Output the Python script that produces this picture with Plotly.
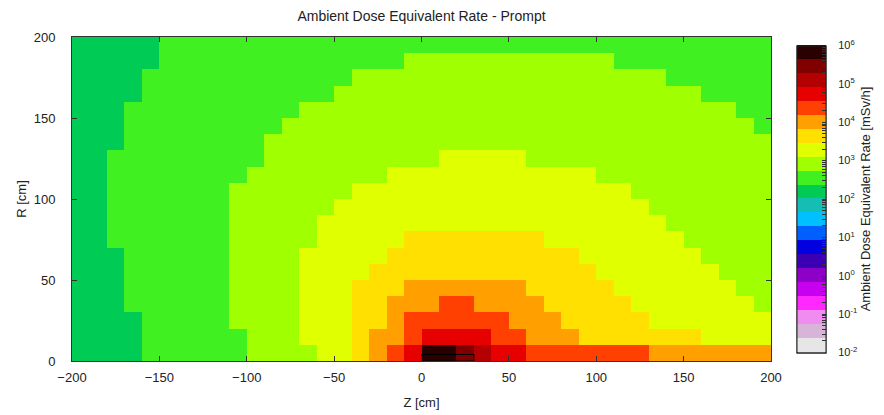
import numpy as np
import plotly.graph_objects as go

# ---------------- data ----------------
# bin edges of the USRBIN-like R-Z mesh [cm]
z_edges = list(range(-200, 201, 10))
r_edges = list(range(0, 201, 10))

# ambient dose equivalent rate [mSv/h], one row per R bin (R = 0-10 first), 40 Z bins each
dose = [
    [150,150,150,150,350,350,350,350,350,350,800,800,800,800,1900,1900,4400,10000,23000,54000,
     660000,660000,280000,120000,54000,54000,23000,23000,23000,23000,23000,23000,23000,10000,10000,10000,10000,10000,10000,10000],
    [150,150,150,150,350,350,350,350,350,350,800,800,800,1900,1900,1900,4400,10000,10000,23000,
     54000,54000,54000,54000,23000,23000,10000,10000,10000,4400,4400,4400,4400,4400,4400,4400,1900,1900,1900,1900],
    [150,150,150,150,350,350,350,350,350,800,800,800,800,1900,1900,1900,4400,4400,10000,23000,
     23000,23000,23000,23000,23000,10000,10000,10000,4400,4400,4400,4400,4400,1900,1900,1900,1900,1900,1900,1900],
    [150,150,150,350,350,350,350,350,350,800,800,800,800,1900,1900,1900,4400,4400,10000,10000,
     10000,23000,23000,10000,10000,10000,10000,4400,4400,4400,4400,4400,1900,1900,1900,1900,1900,1900,1900,800],
    [150,150,150,350,350,350,350,350,350,800,800,800,800,1900,1900,1900,4400,4400,4400,10000,
     10000,10000,10000,10000,10000,10000,4400,4400,4400,4400,4400,1900,1900,1900,1900,1900,1900,1900,800,800],
    [150,150,150,350,350,350,350,350,350,800,800,800,800,1900,1900,1900,1900,4400,4400,4400,
     4400,4400,4400,4400,4400,4400,4400,4400,4400,4400,1900,1900,1900,1900,1900,1900,1900,800,800,800],
    [150,150,150,350,350,350,350,350,350,800,800,800,800,1900,1900,1900,1900,1900,4400,4400,
     4400,4400,4400,4400,4400,4400,4400,4400,4400,1900,1900,1900,1900,1900,1900,1900,800,800,800,800],
    [150,150,350,350,350,350,350,350,350,800,800,800,800,800,1900,1900,1900,1900,1900,4400,
     4400,4400,4400,4400,4400,4400,4400,1900,1900,1900,1900,1900,1900,1900,1900,800,800,800,800,800],
    [150,150,350,350,350,350,350,350,350,800,800,800,800,800,1900,1900,1900,1900,1900,1900,
     1900,1900,1900,1900,1900,1900,1900,1900,1900,1900,1900,1900,1900,1900,800,800,800,800,800,800],
    [150,150,350,350,350,350,350,350,350,800,800,800,800,800,800,1900,1900,1900,1900,1900,
     1900,1900,1900,1900,1900,1900,1900,1900,1900,1900,1900,1900,1900,800,800,800,800,800,800,800],
    [150,150,350,350,350,350,350,350,350,800,800,800,800,800,800,800,1900,1900,1900,1900,
     1900,1900,1900,1900,1900,1900,1900,1900,1900,1900,1900,1900,800,800,800,800,800,800,800,800],
    [150,150,350,350,350,350,350,350,350,350,800,800,800,800,800,800,800,800,1900,1900,
     1900,1900,1900,1900,1900,1900,1900,1900,1900,1900,800,800,800,800,800,800,800,800,800,800],
    [150,150,350,350,350,350,350,350,350,350,350,800,800,800,800,800,800,800,800,800,
     800,1900,1900,1900,1900,1900,800,800,800,800,800,800,800,800,800,800,800,800,800,800],
    [150,150,150,350,350,350,350,350,350,350,350,800,800,800,800,800,800,800,800,800,
     800,800,800,800,800,800,800,800,800,800,800,800,800,800,800,800,800,800,800,800],
    [150,150,150,350,350,350,350,350,350,350,350,350,800,800,800,800,800,800,800,800,
     800,800,800,800,800,800,800,800,800,800,800,800,800,800,800,800,800,800,800,350],
    [150,150,150,350,350,350,350,350,350,350,350,350,350,800,800,800,800,800,800,800,
     800,800,800,800,800,800,800,800,800,800,800,800,800,800,800,800,800,800,350,350],
    [150,150,150,150,350,350,350,350,350,350,350,350,350,350,350,800,800,800,800,800,
     800,800,800,800,800,800,800,800,800,800,800,800,800,800,800,800,350,350,350,350],
    [150,150,150,150,350,350,350,350,350,350,350,350,350,350,350,350,800,800,800,800,
     800,800,800,800,800,800,800,800,800,800,800,800,800,800,350,350,350,350,350,350],
    [150,150,150,150,150,350,350,350,350,350,350,350,350,350,350,350,350,350,350,800,
     800,800,800,800,800,800,800,800,800,800,800,350,350,350,350,350,350,350,350,350],
    [150,150,150,150,150,350,350,350,350,350,350,350,350,350,350,350,350,350,350,350,
     350,350,350,350,350,350,350,350,350,350,350,350,350,350,350,350,350,350,350,350],
]

# target outline overlay (geometry) [cm]
target_z = [0, 30, 30, 0, 0]
target_r = [0, 0, 4, 4, 0]

# colour-bar decades
cb_decades = [-2, -1, 0, 1, 2, 3, 4, 5, 6]

# discrete palette, bottom (1e-2) to top (1e6), 22 bands
palette = [
    "#e6e6e6", "#d8b4d8", "#f08cf0", "#ff28ff", "#c800f0", "#8c00c8",
    "#3c00b4", "#0000e0", "#0060ff", "#00c0ff", "#14beb4", "#00cc55",
    "#40f020", "#a0ff00", "#e0ff00", "#ffe000", "#ffa000", "#ff4000",
    "#e60000", "#b40000", "#800000", "#2a0000",
]

# ---------------- figure ----------------
z_c = 0.5 * (np.array(z_edges[:-1]) + np.array(z_edges[1:]))
r_c = 0.5 * (np.array(r_edges[:-1]) + np.array(r_edges[1:]))
logd = np.log10(np.array(dose, dtype=float))

n = len(palette)
cscale = []
for i, c in enumerate(palette):
    cscale.append([i / n, c])
    cscale.append([(i + 1) / n, c])

major_vals = list(cb_decades)
major_text = [f"10<sup>{d}</sup>" for d in cb_decades]
all_ticks = []
for d in cb_decades:
    all_ticks.append(d)
    if d < cb_decades[-1]:
        for m in range(2, 10):
            all_ticks.append(d + np.log10(m))

FONT = "Liberation Sans, Arial, sans-serif"
cb_pos = dict(x=1.037, xanchor="left", xpad=0, y=0.5, yanchor="middle",
              lenmode="pixels", len=327, thicknessmode="pixels", thickness=29,
              outlinecolor="#222", outlinewidth=1)

fig = go.Figure()
# main map, colour bar carrying the decade labels
fig.add_trace(go.Heatmap(
    x=z_c, y=r_c, z=logd, zmin=-2, zmax=6, zsmooth=False,
    colorscale=cscale,
    colorbar=dict(
        **cb_pos,
        tickmode="array", tickvals=major_vals, ticktext=major_text,
        ticks="outside", ticklen=10, tickcolor="rgba(0,0,0,0)",
        tickfont=dict(family=FONT, size=11, color="#222"),
    ),
    hovertemplate="Z=%{x} cm<br>R=%{y} cm<br>log10(H*)=%{z:.2f}<extra></extra>",
))
# same map again, its colour bar only supplies the inner log tick marks
fig.add_trace(go.Heatmap(
    x=z_c, y=r_c, z=logd, zmin=-2, zmax=6, zsmooth=False,
    colorscale=cscale, hoverinfo="skip",
    colorbar=dict(
        **cb_pos,
        tickmode="array", tickvals=all_ticks,
        ticks="inside", ticklen=4, tickcolor="#333", showticklabels=False,
    ),
))
fig.add_trace(go.Scatter(
    x=target_z, y=target_r, mode="lines",
    line=dict(color="#000", width=1), showlegend=False, hoverinfo="skip",
))

axis_common = dict(
    showline=True, linecolor="#333", linewidth=1, mirror="ticks",
    ticks="inside", ticklen=5, tickcolor="#333",
    showgrid=False, zeroline=False, automargin=False,
    tickfont=dict(family=FONT, size=13, color="#222"),
)
fig.update_xaxes(range=[-200, 200], tickmode="array",
                 tickvals=[-200, -150, -100, -50, 0, 50, 100, 150, 200],
                 title=dict(text="Z [cm]", font=dict(family=FONT, size=13, color="#222"), standoff=14),
                 ticklabelstandoff=4, **axis_common)
fig.update_yaxes(range=[0, 200], tickmode="array",
                 tickvals=[0, 50, 100, 150, 200],
                 title=dict(text="R [cm]", font=dict(family=FONT, size=13, color="#222"), standoff=4),
                 ticklabelstandoff=13, **axis_common)

# the page body adds an 8 px offset; size the figure so it fills the window exactly
fig.update_layout(
    width=876, height=407,
    margin=dict(l=64, r=113, t=29, b=54),
    paper_bgcolor="white", plot_bgcolor="white",
    title=dict(text="Ambient Dose Equivalent Rate - Prompt", x=0.5, xref="paper",
               y=1 - 8 / 407, yanchor="middle",
               font=dict(family=FONT, size=14, color="#222")),
    showlegend=False,
    annotations=[dict(
        text="Ambient Dose Equivalent Rate [mSv/h]", textangle=-90,
        xref="paper", yref="paper", x=1.135, y=0.5,
        xanchor="center", yanchor="middle", showarrow=False,
        font=dict(family=FONT, size=13, color="#222"),
    )],
)

fig.write_html("out.html")
